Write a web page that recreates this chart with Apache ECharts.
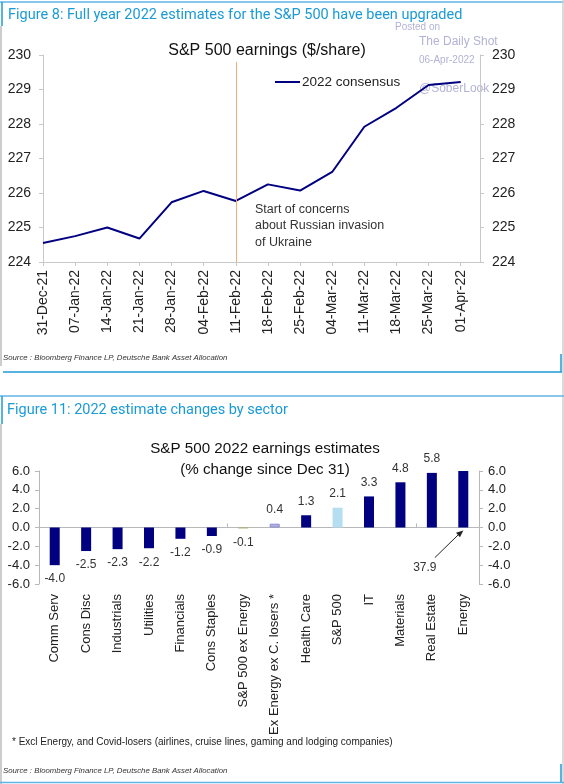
<!DOCTYPE html>
<html><head><meta charset="utf-8">
<script src="https://cdn.jsdelivr.net/npm/echarts@6/dist/echarts.min.js"></script>
<style>html,body{margin:0;padding:0;background:#fff}#c{width:564px;height:784px}</style>
</head><body><div id="c"></div>
<script>
// ---- Figure 8 data ----
const weeks = ['31-Dec-21','07-Jan-22','14-Jan-22','21-Jan-22','28-Jan-22','04-Feb-22','11-Feb-22','18-Feb-22','25-Feb-22','04-Mar-22','11-Mar-22','18-Mar-22','25-Mar-22','01-Apr-22'];
const consensus2022 = [224.55,224.75,225.0,224.68,225.73,226.06,225.77,226.25,226.07,226.61,227.92,228.47,229.13,229.22];
const invasionWeek = '11-Feb-22';
// ---- Figure 11 data ----
const sectors = ['Comm Serv','Cons Disc','Industrials','Utilities','Financials','Cons Staples','S&P 500 ex Energy','Ex Energy ex C. losers *','Health Care','S&P 500','IT','Materials','Real Estate','Energy'];
const pctChange = [-4.0,-2.5,-2.3,-2.2,-1.2,-0.9,-0.1,0.4,1.3,2.1,3.3,4.8,5.8,37.9];

const FONT = 'Liberation Sans';
const NAVY = '#000080';
const blue = '#1e9ad8';
const gray = '#c8c8c8';
const chart = echarts.init(document.getElementById('c'), null, {renderer:'canvas'});

const invIdx = weeks.indexOf(invasionWeek);
const barColors = {'S&P 500 ex Energy':'#a3b05e','Ex Energy ex C. losers *':'#b3b3e6','S&P 500':'#b5dff0'};

const option = {
  animation:false,
  textStyle:{fontFamily:FONT},
  title:[
    {text:'S&P 500 earnings ($/share)',left:262,top:38,textAlign:'center',textStyle:{fontFamily:FONT,fontSize:16,fontWeight:'normal',color:'#111'}},
    {text:'S&P 500 2022 earnings estimates\n(% change since Dec 31)',left:260,top:433,textAlign:'center',textStyle:{fontFamily:FONT,fontSize:15.2,fontWeight:'normal',color:'#111',lineHeight:21}}
  ],
  legend:{data:[{name:'2022 consensus',icon:'rect'}],left:270,top:70,itemWidth:25,itemHeight:2,itemGap:4,
    textStyle:{fontFamily:FONT,fontSize:13.5,color:'#222',padding:[0,0,0,-3]}},
  grid:[
    {left:43,right:84,top:55,bottom:522,containLabel:false},
    {left:39,right:85,top:471,bottom:200,containLabel:false}
  ],
  xAxis:[
    {type:'value',gridIndex:0,min:0,max:13.6,interval:1,
     axisLine:{show:true,lineStyle:{color:gray}},axisTick:{show:true,length:4,lineStyle:{color:gray}},splitLine:{show:false},
     axisLabel:{rotate:90,fontSize:14,color:'#222',margin:8,showMaxLabel:false,fontFamily:FONT,
       formatter:v=>Number.isInteger(v)&&weeks[v]?weeks[v]:''}},
    {type:'category',gridIndex:1,data:sectors,position:'bottom',
     axisLine:{show:false,onZero:false},axisTick:{show:false},
     axisLabel:{rotate:90,fontSize:13,color:'#222',margin:10,interval:0,fontFamily:FONT}},
    {type:'category',gridIndex:1,data:sectors,
     axisLine:{show:true,onZero:true,onZeroAxisIndex:2,lineStyle:{color:'#b8b8b8'}},axisTick:{show:true,length:4,inside:false,lineStyle:{color:'#b8b8b8'}},
     axisLabel:{show:false}}
  ],
  yAxis:[
    {type:'value',gridIndex:0,min:224,max:230,interval:1,position:'left',
     axisLine:{show:true,lineStyle:{color:gray}},axisTick:{show:true,length:4,lineStyle:{color:gray}},splitLine:{show:false},
     axisLabel:{fontSize:14,color:'#222',margin:12,fontFamily:FONT}},
    {type:'value',gridIndex:0,min:224,max:230,interval:1,position:'right',
     axisLine:{show:true,lineStyle:{color:gray}},axisTick:{show:true,length:4,lineStyle:{color:gray}},splitLine:{show:false},
     axisLabel:{fontSize:14,color:'#222',margin:12,fontFamily:FONT}},
    {type:'value',gridIndex:1,min:-6,max:6,interval:2,position:'left',
     axisLine:{show:true,lineStyle:{color:'#b8b8b8'}},axisTick:{show:true,length:4,lineStyle:{color:'#b8b8b8'}},splitLine:{show:false},
     axisLabel:{fontSize:13,color:'#222',margin:9,fontFamily:FONT,formatter:v=>v.toFixed(1)}},
    {type:'value',gridIndex:1,min:-6,max:6,interval:2,position:'right',
     axisLine:{show:true,lineStyle:{color:'#b8b8b8'}},axisTick:{show:true,length:4,lineStyle:{color:'#b8b8b8'}},splitLine:{show:false},
     axisLabel:{fontSize:13,color:'#222',margin:9,fontFamily:FONT,formatter:v=>v.toFixed(1)}}
  ],
  series:[
    {name:'2022 consensus',type:'line',xAxisIndex:0,yAxisIndex:0,symbol:'none',
     data:consensus2022.map((v,i)=>[i,v]),lineStyle:{color:NAVY,width:2},itemStyle:{color:NAVY},
     markLine:{silent:true,symbol:'none',label:{show:false},lineStyle:{color:'#f6ad72',width:1,type:'solid'},
       data:[[{coord:[invIdx,229.8]},{coord:[invIdx,224]}]]}},
    {name:'pct',type:'bar',xAxisIndex:1,yAxisIndex:2,barWidth:10,clip:true,
     data:pctChange.map((v,i)=>{
       const name=sectors[i];
       const c=barColors[name]||NAVY;
       const over=v>6;
       return {value:v,itemStyle:{color:c,borderColor:name==='Ex Energy ex C. losers *'?'#8a8ad0':c,borderWidth:name==='Ex Energy ex C. losers *'?1:0},
         label:{show:!over,position:v>=0?'top':'bottom',distance:8,formatter:p=>p.value.toFixed(1),fontSize:12,color:'#333',fontFamily:FONT}};
     })}
  ]
};
chart.setOption(option);

// annotation for clipped Energy bar, positioned with the chart's own scales
const lastIdx = sectors.length-1;
const pEnd = chart.convertToPixel({xAxisIndex:1,yAxisIndex:2},[sectors[lastIdx],0]);
const pStart = chart.convertToPixel({xAxisIndex:1,yAxisIndex:2},[sectors[lastIdx-1],-3.2]);
const pLab = chart.convertToPixel({xAxisIndex:1,yAxisIndex:2},[sectors[lastIdx-1],-4.3]);
const angle = Math.atan2(pEnd[1]+3-pStart[1], pEnd[0]-pStart[0]);
const ex=pEnd[0], ey=pEnd[1]+3;
const ah=7, aw=3;
const bx=ex-ah*Math.cos(angle), by=ey-ah*Math.sin(angle);
const nx=-Math.sin(angle)*aw, ny=Math.cos(angle)*aw;

const wm = '#b2b2d6';
chart.setOption({graphic:[
  // frame figure 8
  {type:'line',shape:{x1:0,y1:2,x2:564,y2:2},style:{stroke:'#5fb4e4',lineWidth:1.5}},
  {type:'line',shape:{x1:2,y1:2,x2:2,y2:26},style:{stroke:blue,lineWidth:1.5}},
  {type:'line',shape:{x1:1,y1:26,x2:1,y2:366},style:{stroke:'#bdbdbd',lineWidth:1.5}},
  {type:'line',shape:{x1:563,y1:0,x2:563,y2:784},style:{stroke:'#cfcfcf',lineWidth:1.5}},
  {type:'line',shape:{x1:3,y1:372,x2:562,y2:372},style:{stroke:blue,lineWidth:1.5}},
  {type:'line',shape:{x1:561,y1:354,x2:561,y2:372},style:{stroke:blue,lineWidth:1.5}},
  {type:'text',left:8,top:8,style:{text:'Figure 8: Full year 2022 estimates for the S&P 500 have been upgraded',fontFamily:'Roboto',fontSize:14.5,fill:'#1b9ad6'}},
  {type:'text',left:395,top:22,style:{text:'Posted on',fontFamily:FONT,fontSize:10,fill:wm}},
  {type:'text',left:419,top:36,style:{text:'The Daily Shot',fontFamily:FONT,fontSize:12,fill:wm}},
  {type:'text',left:419,top:55,style:{text:'06-Apr-2022',fontFamily:FONT,fontSize:10,fill:wm}},
  {type:'text',left:419,top:83,style:{text:'@SoberLook',fontFamily:FONT,fontSize:12,fill:wm}},
  {type:'text',left:255,top:201,style:{text:'Start of concerns\nabout Russian invasion\nof Ukraine',fontFamily:FONT,fontSize:12.5,lineHeight:16.5,fill:'#333'}},
  {type:'text',left:3,top:354,style:{text:'Source : Bloomberg Finance LP, Deutsche Bank Asset Allocation',fontFamily:FONT,fontSize:7.8,fontStyle:'italic',fill:'#333'}},
  // frame figure 11
  {type:'line',shape:{x1:0,y1:396,x2:564,y2:396},style:{stroke:'#5fb4e4',lineWidth:1.5}},
  {type:'line',shape:{x1:2,y1:396,x2:2,y2:424},style:{stroke:blue,lineWidth:1.5}},
  {type:'line',shape:{x1:1,y1:424,x2:1,y2:784},style:{stroke:'#bdbdbd',lineWidth:1.5}},
  {type:'line',shape:{x1:0,y1:782.5,x2:564,y2:782.5},style:{stroke:'#5fb4e4',lineWidth:1.5}},
  {type:'line',shape:{x1:561,y1:764,x2:561,y2:782},style:{stroke:blue,lineWidth:1.5}},
  {type:'text',left:7,top:403,style:{text:'Figure 11: 2022 estimate changes by sector',fontFamily:'Roboto',fontSize:14.5,fill:'#1b9ad6'}},
  {type:'text',left:12,top:737,style:{text:'* Excl Energy, and Covid-losers (airlines, cruise lines, gaming and lodging companies)',fontFamily:FONT,fontSize:10,fill:'#222'}},
  {type:'text',left:3,top:767,style:{text:'Source : Bloomberg Finance LP, Deutsche Bank Asset Allocation',fontFamily:FONT,fontSize:7.8,fontStyle:'italic',fill:'#333'}},
  // Energy arrow + label
  {type:'line',shape:{x1:pStart[0]+3,y1:pStart[1],x2:bx,y2:by},style:{stroke:'#222',lineWidth:1}},
  {type:'polygon',shape:{points:[[ex,ey],[bx+nx,by+ny],[bx-nx,by-ny]]},style:{fill:'#222'}},
  {type:'text',x:pLab[0]-7,y:pLab[1],style:{text:pctChange[lastIdx].toFixed(1),fontFamily:FONT,fontSize:12,fill:'#333',align:'center',verticalAlign:'middle'}}
]});
</script></body></html>
